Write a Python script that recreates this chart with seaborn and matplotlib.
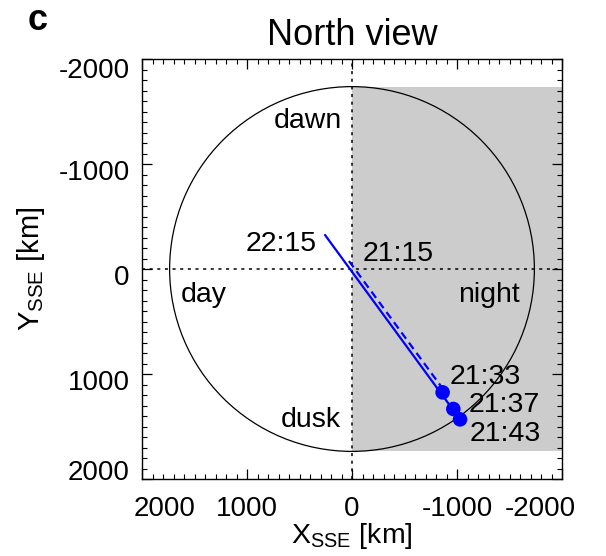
import matplotlib
matplotlib.use("Agg")
import matplotlib.pyplot as plt
import matplotlib.transforms as mtransforms
from matplotlib.patches import Circle
import seaborn as sns
import pandas as pd
import numpy as np

# ---- data ----
moon_radius = 1737
solid_x = [257, -1029]
solid_y = [-324, 1432]
dash_x = [29, -850]
dash_y = [-76, 1120]
dot_times = ["21:33", "21:37", "21:43"]
dot_x = [-863, -965, -1029]
dot_y = [1175, 1333, 1432]
tick_vals = [2000, 1000, 0, -1000, -2000]
tick_labels = ["2000", "1000", "0", "-1000", "-2000"]
ytick_vals = [-2000, -1000, 0, 1000, 2000]
ytick_labels = ["-2000", "-1000", "0", "1000", "2000"]

sns.set_theme(style="ticks")
plt.rcParams["font.family"] = ["Liberation Sans", "DejaVu Sans"]
plt.rcParams["mathtext.fontset"] = "custom"
plt.rcParams["mathtext.rm"] = "Liberation Sans"
plt.rcParams["mathtext.it"] = "Liberation Sans:italic"
plt.rcParams["axes.unicode_minus"] = False
for k in ["text.color", "axes.labelcolor", "xtick.color", "ytick.color", "axes.edgecolor"]:
    plt.rcParams[k] = "black"

fig = plt.figure(figsize=(6.06, 5.56), dpi=100)
ax = fig.add_axes([142 / 606, 1 - 479 / 556, 420 / 606, 420 / 556])
ax.set_xlim(2000, -2000)
ax.set_ylim(2000, -2000)

# night side shading
ax.fill_between([0, -2000], [-moon_radius, -moon_radius], [moon_radius, moon_radius],
                color="#cccccc", lw=0, zorder=0)
ax.add_patch(Circle((0, 0), moon_radius, fill=False, ec="black", lw=0.9, zorder=1))
ax.axvline(0, color="black", lw=1.1, ls=(0, (2, 3)), zorder=1)
ax.axhline(0, color="black", lw=1.1, ls=(0, (2, 3)), zorder=1)

solid_df = pd.DataFrame({"x": solid_x, "y": solid_y})
dash_df = pd.DataFrame({"x": dash_x, "y": dash_y})
dot_df = pd.DataFrame({"x": dot_x, "y": dot_y, "t": dot_times})

sns.lineplot(data=solid_df, x="x", y="y", ax=ax, color="#0000ff", lw=1.6, sort=False, zorder=3)
sns.lineplot(data=dash_df, x="x", y="y", ax=ax, color="#0000ff", lw=1.6, sort=False,
             dashes=False, zorder=3).lines[-1].set_linestyle((0, (3.5, 2.2)))
sns.scatterplot(data=dot_df, x="x", y="y", ax=ax, color="#0000ff", s=110, edgecolor="none",
                zorder=4, legend=False)

fs = 20.5
ax.text(95, -1343, "dawn", ha="right", va="baseline", fontsize=fs)
ax.text(105, 1505, "dusk", ha="right", va="baseline", fontsize=fs)
ax.text(1629, 316, "day", ha="left", va="baseline", fontsize=fs)
ax.text(-1010, 316, "night", ha="left", va="baseline", fontsize=fs)
ax.text(333, -171, "22:15", ha="right", va="baseline", fontsize=fs)
ax.text(-105, -76, "21:15", ha="left", va="baseline", fontsize=fs)
lab_pos = [(-933, 1095), (-1114, 1362), (-1124, 1638)]
for t, (lx, ly) in zip(dot_times, lab_pos):
    ax.text(lx, ly, t, ha="left", va="baseline", fontsize=fs)

ax.set_xticks(tick_vals)
ax.set_xticklabels(tick_labels)
ax.set_yticks(ytick_vals)
ax.set_yticklabels(ytick_labels)
ax.set_xticks(np.arange(-2000, 2001, 100), minor=True)
ax.set_yticks(np.arange(-2000, 2001, 100), minor=True)
ax.tick_params(which="both", direction="in", top=True, right=True, colors="black")
ax.tick_params(which="major", length=7, width=0.9, labelsize=20, pad=12)
ax.tick_params(which="minor", length=3.5, width=0.8)
ax.tick_params(axis="y", which="major", pad=9)
for sp in ax.spines.values():
    sp.set_linewidth(1.0)
    sp.set_color("black")

# IDL-like inward shift of end tick labels
xl = ax.get_xticklabels()
yl = ax.get_yticklabels()
def shift(lbl, dx, dy):
    lbl.set_transform(lbl.get_transform() + mtransforms.ScaledTranslation(dx / 100, dy / 100, fig.dpi_scale_trans))
shift(xl[0], 23, 0)
shift(xl[-1], -22, 0)
shift(yl[0], 0, -9)
shift(yl[-1], 0, 9)
for l in yl[1:-1]:
    shift(l, 0, -6)

ax.set_xlabel(r"X$_{\rm SSE}$ [km]", fontsize=20.5)
ax.set_ylabel(r"Y$_{\rm SSE}$ [km]", fontsize=21)
ax.xaxis.set_label_coords(0.5, -0.1)
ax.yaxis.set_label_coords(-0.225, 0.5)
ax.set_title("North view", fontsize=26, pad=10)
fig.text(38 / 606, 1 - 20 / 556, "c", fontsize=26, fontweight="bold", ha="center", va="center")

fig.savefig("out.png", dpi=100)
